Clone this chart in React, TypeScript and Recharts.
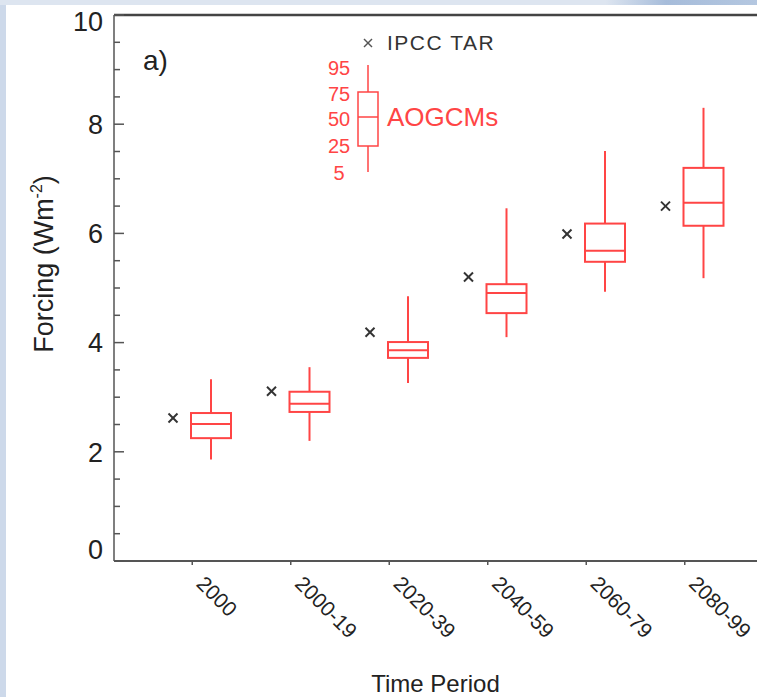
import { Bar, ComposedChart, ReferenceLine, XAxis, YAxis } from "recharts";

const periods = ["2000", "2000-19", "2020-39", "2040-59", "2060-79", "2080-99"];
const ipccTar = [2.62, 3.11, 4.19, 5.2, 5.99, 6.5];
const p5 = [1.86, 2.2, 3.26, 4.1, 4.93, 5.18];
const p25 = [2.25, 2.73, 3.72, 4.54, 5.48, 6.14];
const p50 = [2.51, 2.88, 3.86, 4.91, 5.68, 6.56];
const p75 = [2.71, 3.1, 4.01, 5.07, 6.18, 7.2];
const p95 = [3.33, 3.55, 4.85, 6.46, 7.51, 8.3];

const yTicks = [0, 0.5, 1, 1.5, 2, 2.5, 3, 3.5, 4, 4.5, 5, 5.5, 6, 6.5, 7, 7.5, 8, 8.5, 9, 9.5, 10];
const yLabels = [0, 2, 4, 6, 8, 10];
const legendPercentiles = ["95", "75", "50", "25", "5"];

const data = periods.map((period, i) => ({
    period,
    tar: ipccTar[i],
    p5: p5[i],
    p25: p25[i],
    p50: p50[i],
    p75: p75[i],
    p95: p95[i],
}));

const RED = "#ff4545";
const AXIS = "#555";
const FONT = "'Liberation Sans', Arial, sans-serif";

function LeftTick(props: any) {
    const { x, y, payload } = props;
    const v = payload.value;
    const labeled = yLabels.includes(v);
    // edge labels are pulled inside the frame like the original
    const shift = v === 10 ? 6 : v === 0 ? -12 : 0;
    return (
        <g>
            <line x1={x} x2={x + (labeled ? 10 : 6)} y1={y} y2={y} stroke={AXIS} strokeWidth={1.5} />
            {labeled && (
                <text x={x - 11} y={y + shift} dy="0.36em" textAnchor="end" fontSize={27} fill="#222" fontFamily={FONT}>
                    {v}
                </text>
            )}
        </g>
    );
}

function RightTick(props: any) {
    const { x, y, payload } = props;
    const labeled = yLabels.includes(payload.value);
    return <line x1={x} x2={x - (labeled ? 10 : 6)} y1={y} y2={y} stroke={AXIS} strokeWidth={1.5} />;
}

function XTick(props: any) {
    const { x, y, payload } = props;
    const tx = x + 3;
    const ty = y + 20;
    return (
        <text x={tx} y={ty} transform={`rotate(45, ${tx}, ${ty})`} fontSize={21} fill="#222" fontFamily={FONT}>
            {payload.value}
        </text>
    );
}

function XLabel(props: any) {
    const { viewBox } = props;
    return (
        <text x={viewBox.x + viewBox.width / 2 - 3} y={692} textAnchor="middle" fontSize={24} fill="#222" fontFamily={FONT}>
            Time Period
        </text>
    );
}

function YLabel() {
    return (
        <text x={53} y={264} transform="rotate(-90, 53, 264)" textAnchor="middle" fontSize={27} fill="#222" fontFamily={FONT}>
            Forcing (Wm
            <tspan dy={-11} fontSize={16}>-2</tspan>
            <tspan dy={11}>)</tspan>
        </text>
    );
}

function TarMark(props: any) {
    const { x, y, width } = props;
    const cx = x + width / 2;
    const s = 4.5;
    return (
        <g stroke="#333" strokeWidth={2}>
            <line x1={cx - s} y1={y - s} x2={cx + s} y2={y + s} />
            <line x1={cx - s} y1={y + s} x2={cx + s} y2={y - s} />
        </g>
    );
}

function BoxShape(props: any) {
    const { x, y, width, height, payload } = props;
    const k = height / (payload.p95 - payload.p5);
    const py = (v: number) => y + (payload.p95 - v) * k;
    const cx = x + width / 2;
    const half = 20;
    return (
        <g stroke={RED} strokeWidth={2} fill="none">
            <line x1={cx} x2={cx} y1={py(payload.p95)} y2={py(payload.p75)} />
            <line x1={cx} x2={cx} y1={py(payload.p25)} y2={py(payload.p5)} />
            <rect x={cx - half} y={py(payload.p75)} width={half * 2} height={py(payload.p25) - py(payload.p75)} />
            <line x1={cx - half} x2={cx + half} y1={py(payload.p50)} y2={py(payload.p50)} />
        </g>
    );
}

function LegendOverlay() {
    const ys = [68, 94, 119, 146, 173];
    return (
        <svg width={757} height={697} style={{ position: "absolute", left: 0, top: 0, pointerEvents: "none" }}>
            <text x={143} y={70} fontSize={28} fill="#222" fontFamily={FONT}>a)</text>
            <g stroke="#555" strokeWidth={1.5}>
                <line x1={364} y1={39} x2={372} y2={47} />
                <line x1={364} y1={47} x2={372} y2={39} />
            </g>
            <text x={387} y={50} fontSize={21} letterSpacing={1.5} fill="#333" fontFamily={FONT}>IPCC TAR</text>
            <g stroke={RED} strokeWidth={1.5} fill="none">
                <line x1={368} x2={368} y1={65} y2={92} />
                <line x1={368} x2={368} y1={146} y2={172} />
                <rect x={358} y={92} width={20} height={54} />
                <line x1={358} x2={378} y1={117} y2={117} />
            </g>
            {legendPercentiles.map((p, i) => (
                <text key={p} x={339} y={ys[i]} dy="0.36em" textAnchor="middle" fontSize={20} fill={RED} fontFamily={FONT}>
                    {p}
                </text>
            ))}
            <text x={387} y={117} dy="0.36em" fontSize={26} fill={RED} fontFamily={FONT}>AOGCMs</text>
        </svg>
    );
}

export default function App() {
    return (
        <div
            style={{
                position: "absolute",
                left: 0,
                top: 0,
                width: 757,
                height: 697,
                overflow: "hidden",
                background: "#cdd9ea",
            }}
        >
            <div
                style={{
                    position: "absolute",
                    left: 0,
                    top: 0,
                    width: 757,
                    height: 5,
                    background: "linear-gradient(90deg, #dde5f0 0%, #dde5f0 80%, #a6bcda 88%, #b4c7e0 100%)",
                }}
            />
            <div style={{ position: "absolute", left: 6, top: 5, width: 760, height: 700, background: "#fff" }} />
            <div style={{ position: "absolute", left: 0, top: 0 }}>
                <ComposedChart
                    width={770}
                    height={697}
                    data={data}
                    barGap={0}
                    margin={{ top: 15, right: 7, bottom: 0, left: 0 }}
                >
                    <XAxis
                        dataKey="period"
                        height={136}
                        interval={0}
                        tickSize={4}
                        tickMargin={0}
                        tickLine={{ stroke: AXIS, strokeWidth: 1.5 }}
                        axisLine={{ stroke: AXIS, strokeWidth: 2 }}
                        padding={{ left: 29, right: 29 }}
                        tick={<XTick />}
                        label={<XLabel />}
                    />
                    <YAxis
                        yAxisId="l"
                        type="number"
                        domain={[0, 10]}
                        ticks={yTicks}
                        interval={0}
                        width={114}
                        tickSize={0}
                        tickMargin={0}
                        tickLine={false}
                        tick={<LeftTick />}
                        axisLine={{ stroke: AXIS, strokeWidth: 1.5 }}
                        label={<YLabel />}
                    />
                    <YAxis
                        yAxisId="r"
                        orientation="right"
                        type="number"
                        domain={[0, 10]}
                        ticks={yTicks}
                        interval={0}
                        width={0}
                        tickSize={0}
                        tickMargin={0}
                        tickLine={false}
                        tick={<RightTick />}
                        axisLine={{ stroke: AXIS, strokeWidth: 1.5 }}
                    />
                    <ReferenceLine yAxisId="l" y={10} stroke="#444" strokeWidth={2.5} />
                    <Bar yAxisId="l" dataKey="tar" barSize={38} shape={<TarMark />} isAnimationActive={false} />
                    <Bar
                        yAxisId="l"
                        dataKey={(d: any) => [d.p5, d.p95]}
                        barSize={38}
                        shape={<BoxShape />}
                        isAnimationActive={false}
                    />
                </ComposedChart>
            </div>
            <LegendOverlay />
        </div>
    );
}
